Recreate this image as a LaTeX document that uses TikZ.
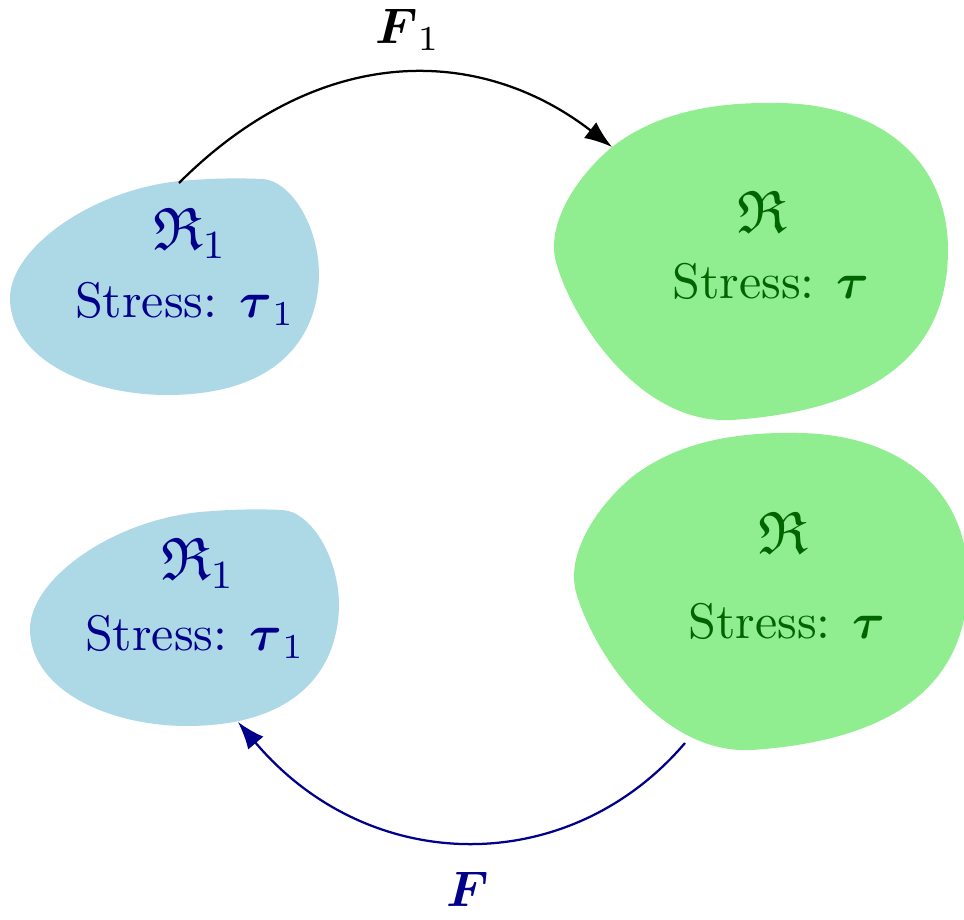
\documentclass[tikz,border=0pt]{standalone}
\usepackage{amsmath,amssymb}
\usetikzlibrary{arrows.meta}
\definecolor{bfill}{RGB}{173,216,230}
\definecolor{gfill}{RGB}{144,238,144}
\definecolor{btext}{RGB}{0,0,139}
\definecolor{gtext}{RGB}{0,100,0}
\begin{document}
\begin{tikzpicture}[x=0.2pt,y=-0.2pt,
  blueblob/.pic={\fill[bfill] (180,181) .. controls (215,178) and (240,178) .. (262,179)
      .. controls (290,180) and (319,225) .. (319,275)
      .. controls (318,340) and (275,395) .. (167,395)
      .. controls (90,395) and (12,360) .. (10,300)
      .. controls (8,250) and (90,190) .. (180,181) -- cycle;},
  greenblob/.pic={\fill[gfill] (612,147) .. controls (660,110) and (720,102) .. (778,103)
      .. controls (880,104) and (948,160) .. (948,250)
      .. controls (948,350) and (880,410) .. (732,420)
      .. controls (640,425) and (572,320) .. (556,262)
      .. controls (546,225) and (575,178) .. (612,147) -- cycle;},
  btxt/.style={text=btext, inner sep=0pt},
  gtxt/.style={text=gtext, inner sep=0pt},
  frak/.style={font=\large},
  conn/.style={line width=0.45pt, -{Latex[length=5.5pt,width=4pt]}}
]
\useasboundingbox (0,0) rectangle (964,920);
\clip (0,0) rectangle (964,920);
% blobs
\pic at (0,0) {blueblob};
\pic at (20,331) {blueblob};
\pic at (0,0) {greenblob};
\pic at (20,330) {greenblob};
% texts
\node[btxt,frak] (r1a) at (190,233) {$\mathfrak{R}_1$};
\node[btxt] (s1a) at (185,304) {Stress: $\boldsymbol{\tau}_1$};
\node[gtxt,frak] (ra) at (762,212) {$\mathfrak{R}$};
\node[gtxt] (sa) at (771,281) {Stress: $\boldsymbol{\tau}$};
\node[btxt,frak] (r1b) at (198,563) {$\mathfrak{R}_1$};
\node[btxt] (s1b) at (195,637) {Stress: $\boldsymbol{\tau}_1$};
\node[gtxt,frak] (rb) at (783,533) {$\mathfrak{R}$};
\node[gtxt] (sb) at (787,621) {Stress: $\boldsymbol{\tau}$};
% labels
\node[inner sep=0pt] (f1) at (408,30) {$\boldsymbol{F}_1$};
\node[btxt] (f) at (468,889) {$\boldsymbol{F}$};
% connectors
\coordinate (a1s) at (179,183);
\coordinate (a1e) at (612,147);
\coordinate (a2s) at (685,743);
\coordinate (a2e) at (238,722);
\draw[conn, black] (a1s) .. controls (320,42) and (480,45) .. (a1e);
\draw[conn, btext] (a2s) .. controls (570,878) and (370,878) .. (a2e);
\end{tikzpicture}
\end{document}
